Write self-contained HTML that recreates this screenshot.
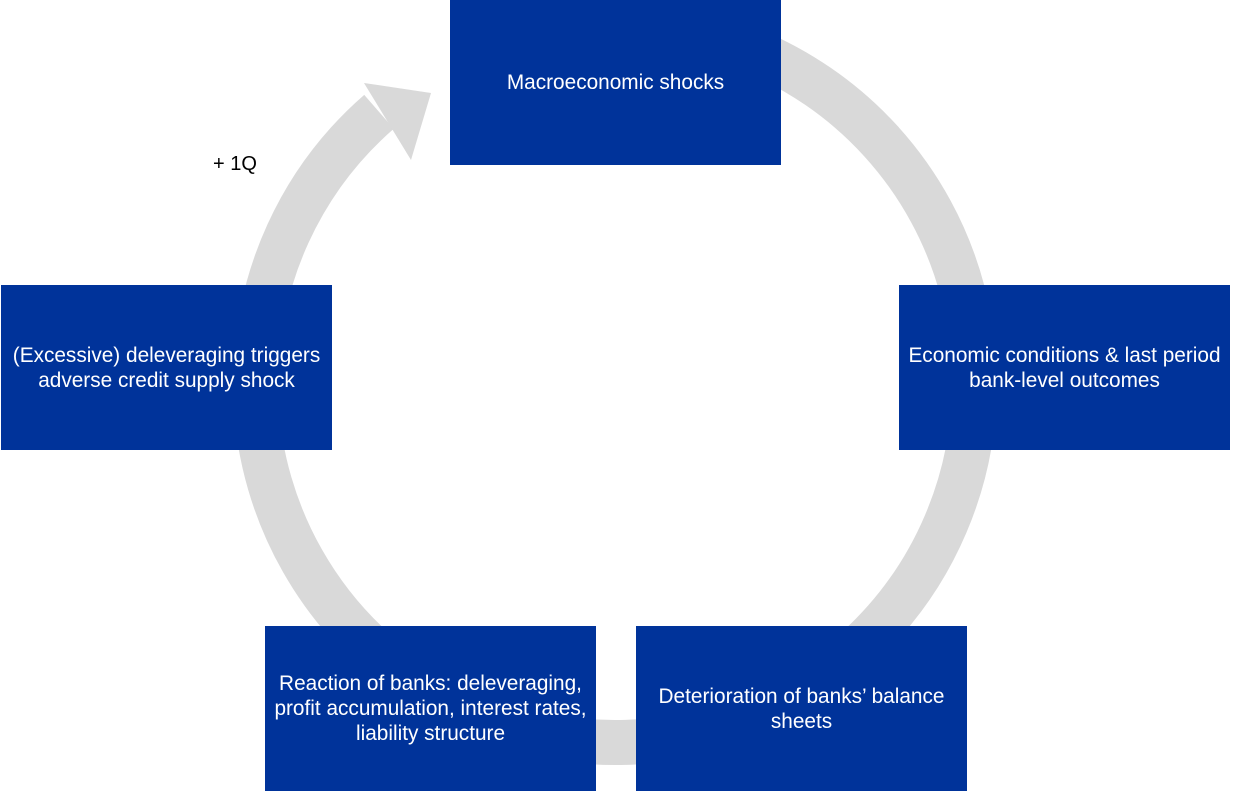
<!DOCTYPE html>
<html><head><meta charset="utf-8"><style>
html,body{margin:0;padding:0;background:#fff;width:1240px;height:792px;overflow:hidden}
.b{position:absolute;width:331px;height:165px;background:#00339a;color:#fff;font-family:"Liberation Sans",sans-serif;font-size:20.8px;line-height:25px;display:flex;align-items:center;justify-content:center;text-align:center;box-sizing:border-box;padding:0 8px}
</style></head><body>
<svg width="1240" height="792" style="position:absolute;left:0;top:0">
<path d="M379,111.8 A359.5,359.5 0 1 0 677.4,29" fill="none" stroke="#d9d9d9" stroke-width="45"/>
<polygon points="364,83 431,93 411,160" fill="#d9d9d9"/>
<text x="213" y="170" font-family="Liberation Sans, sans-serif" font-size="20" fill="#000">+ 1Q</text>
</svg>
<div class="b" style="left:450px;top:0">Macroeconomic shocks</div>
<div class="b" style="left:1px;top:285px">(Excessive) deleveraging triggers adverse credit supply shock</div>
<div class="b" style="left:899px;top:285px">Economic conditions &amp; last period bank-level outcomes</div>
<div class="b" style="left:265px;top:626px">Reaction of banks: deleveraging, profit accumulation, interest rates, liability structure</div>
<div class="b" style="left:636px;top:626px">Deterioration of banks’ balance sheets</div>
</body></html>
